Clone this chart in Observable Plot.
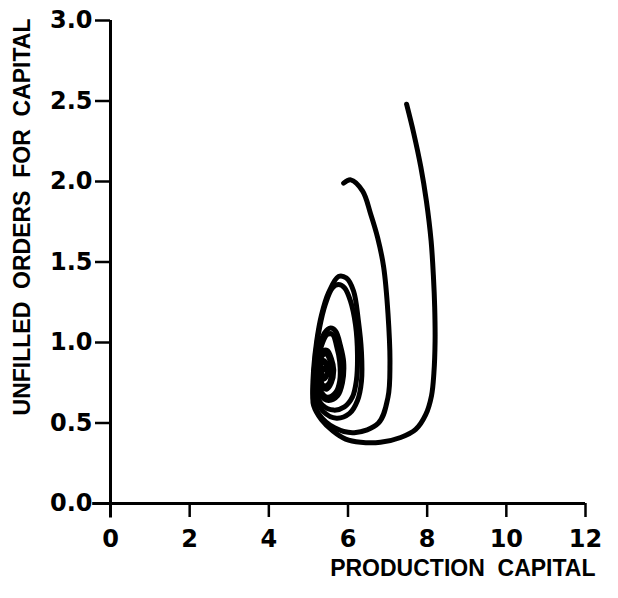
<!DOCTYPE html>
<html>
<head>
<meta charset="utf-8">
<script src="https://cdn.jsdelivr.net/npm/d3@7"></script>
<script src="https://cdn.jsdelivr.net/npm/@observablehq/plot@0.6"></script>
<style>
  html, body { margin: 0; padding: 0; background: #fff; }
  #chart svg { display: block; }
</style>
</head>
<body>
<div id="chart"></div>
<script>
// Phase trajectory starting from high capital and high orders: [production capital, unfilled orders]
const runHigh = [
  [7.48, 2.48], [7.66, 2.30], [7.84, 2.09], [7.98, 1.88], [8.10, 1.63], [8.16, 1.40],
  [8.19, 1.22], [8.20, 1.01], [8.17, 0.81], [8.11, 0.67], [7.96, 0.55], [7.71, 0.46],
  [7.33, 0.41], [6.82, 0.38], [6.32, 0.38], [5.94, 0.40], [5.62, 0.45], [5.33, 0.52],
  [5.13, 0.61],
  [5.11, 0.67], [5.13, 0.83], [5.21, 1.01], [5.33, 1.17], [5.51, 1.31], [5.76, 1.41],
  [5.96, 1.40], [6.14, 1.32], [6.26, 1.14], [6.34, 0.94], [6.34, 0.76], [6.24, 0.64],
  [6.04, 0.56], [5.71, 0.53], [5.38, 0.57], [5.21, 0.65],
  [5.18, 0.76], [5.21, 0.89], [5.28, 0.98], [5.41, 1.06], [5.56, 1.09], [5.69, 1.07],
  [5.81, 0.98], [5.89, 0.88], [5.86, 0.75], [5.74, 0.67], [5.51, 0.64], [5.31, 0.67],
  [5.23, 0.75],
  [5.23, 0.83], [5.28, 0.90], [5.38, 0.95], [5.48, 0.95], [5.58, 0.90], [5.64, 0.83],
  [5.58, 0.75], [5.46, 0.71], [5.31, 0.73], [5.26, 0.80],
  [5.28, 0.85], [5.36, 0.89], [5.43, 0.88], [5.48, 0.83], [5.43, 0.78], [5.33, 0.77],
  [5.28, 0.81], [5.33, 0.84], [5.38, 0.83]
];

// Phase trajectory starting from lower capital: [production capital, unfilled orders]
const runLow = [
  [5.89, 1.99], [6.07, 2.01], [6.37, 1.94], [6.57, 1.80], [6.75, 1.65], [6.90, 1.47],
  [7.01, 1.18], [7.06, 0.87], [7.01, 0.66], [6.77, 0.50], [6.16, 0.44], [5.66, 0.47],
  [5.28, 0.55], [5.13, 0.64],
  [5.13, 0.76], [5.18, 0.92], [5.28, 1.09], [5.43, 1.24], [5.61, 1.34], [5.76, 1.36],
  [5.91, 1.34], [6.06, 1.26], [6.19, 1.11], [6.24, 0.92], [6.21, 0.76], [6.11, 0.66],
  [5.91, 0.60], [5.64, 0.58], [5.36, 0.61], [5.21, 0.68],
  [5.21, 0.80], [5.26, 0.91], [5.36, 1.00], [5.48, 1.05], [5.61, 1.05], [5.71, 0.98],
  [5.79, 0.88], [5.79, 0.76], [5.69, 0.69], [5.48, 0.66], [5.33, 0.69], [5.26, 0.75],
  [5.26, 0.84], [5.33, 0.91], [5.43, 0.93], [5.53, 0.90], [5.58, 0.83], [5.53, 0.75],
  [5.41, 0.73], [5.31, 0.76], [5.28, 0.81],
  [5.31, 0.86], [5.38, 0.88], [5.46, 0.85], [5.46, 0.80], [5.38, 0.78], [5.33, 0.81],
  [5.36, 0.84]
];

const xTicks = [0, 2, 4, 6, 8, 10, 12];
const yTicks = [0, 0.5, 1.0, 1.5, 2.0, 2.5, 3.0];
const xTitle = "PRODUCTION  CAPITAL";
const yTitle = "UNFILLED  ORDERS  FOR  CAPITAL";

const titleFont = "'Liberation Sans', Arial, Helvetica, sans-serif";
const tickFont = "'DejaVu Sans', 'Liberation Sans', sans-serif";

const chart = Plot.plot({
  width: 618,
  height: 598,
  marginLeft: 110,
  marginRight: 33,
  marginTop: 20,
  marginBottom: 95,
  style: {fontFamily: titleFont, fontWeight: "bold", color: "#000", background: "#fff"},
  x: {domain: [0, 12]},
  y: {domain: [0, 3]},
  marks: [
    Plot.axisY(yTicks, {
      tickSize: 15, tickPadding: 3, strokeWidth: 2.5,
      tickFormat: d3.format(".1f"), label: null,
      fontSize: 24, fontWeight: "bold", fontFamily: tickFont
    }),
    Plot.axisX(xTicks, {
      tickSize: 14, tickPadding: 12, strokeWidth: 2.5,
      tickFormat: d3.format("d"), label: null,
      fontSize: 24, fontWeight: "bold", fontFamily: tickFont
    }),
    // axis lines, crossing at the origin
    Plot.ruleX([0], {y1: -0.09, y2: 3, strokeWidth: 3, clip: false}),
    Plot.ruleY([0], {x1: -0.45, x2: 12, strokeWidth: 3, clip: false}),
    // trajectories spiralling into the equilibrium
    Plot.line(runHigh, {x: d => d[0], y: d => d[1], curve: "catmull-rom",
      strokeWidth: 5, strokeLinecap: "round", strokeLinejoin: "round"}),
    Plot.line(runLow, {x: d => d[0], y: d => d[1], curve: "catmull-rom",
      strokeWidth: 5, strokeLinecap: "round", strokeLinejoin: "round"}),
    // axis titles
    Plot.text([yTitle], {
      frameAnchor: "top-left", rotate: -90, textAnchor: "end", lineAnchor: "middle",
      dx: -88, dy: -2, fontSize: 23, fontWeight: "bold"
    }),
    Plot.text([xTitle], {
      frameAnchor: "bottom-right", textAnchor: "end", lineAnchor: "bottom",
      dx: 10, dy: 72, fontSize: 23, fontWeight: "bold"
    })
  ]
});

document.getElementById("chart").appendChild(chart);
</script>
</body>
</html>
